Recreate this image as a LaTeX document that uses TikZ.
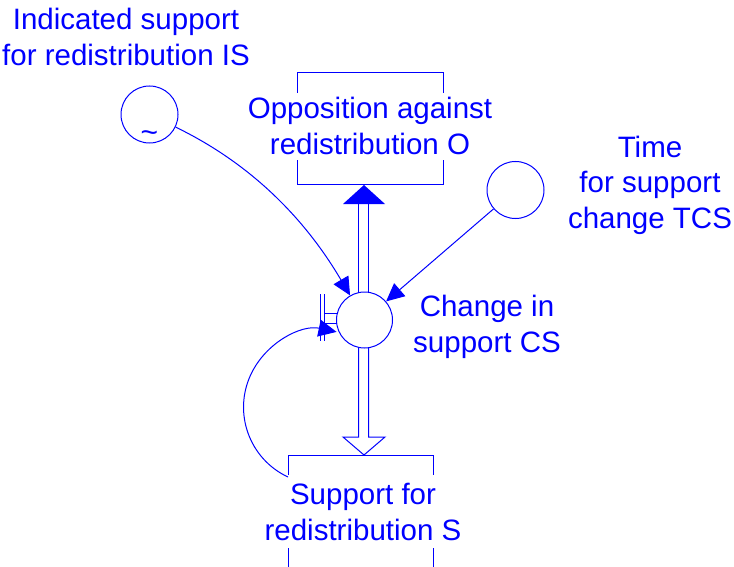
\documentclass[tikz,border=0pt]{standalone}
\usepackage{fontspec}
\setmainfont{Liberation Sans}
\usetikzlibrary{arrows.meta,calc}
\definecolor{vblue}{RGB}{0,0,255}
\begin{document}
\begin{tikzpicture}[x=1pt,y=-1pt,
  every node/.style={inner sep=0pt},
  lbl/.style={text=vblue, font=\fontsize{29.5}{36}\selectfont, align=center, anchor=base},
  conv/.style={draw=vblue, circle, minimum size=56pt, line width=1pt},
  stock/.style={draw=vblue, line width=1pt, rectangle},
  wire/.style={draw=vblue, line width=1pt},
  conn/.style={wire, -{Triangle[length=18pt,width=17pt]}},
]
\useasboundingbox (0,0) rectangle (734,567);

% stocks
\node[stock, minimum width=146pt, minimum height=112pt] (O) at (370,129) {};
\node[stock, minimum width=145pt, minimum height=130pt, anchor=north] (S) at (360.5,455) {};

% converters
\node[conv] (CS) at (364.5,320) {};
\node[conv, minimum size=57pt] (IS) at (149.5,114.5) {};
\node[text=vblue, font=\fontsize{30}{30}\selectfont, anchor=base] (tld) at (149.5,143) {\textasciitilde};
\node[conv, minimum size=57pt] (TCS) at (515.5,190) {};

% labels
\node[lbl] (ISl) at (126,66) {Indicated support\\for redistribution IS};
\node[lbl, fill=white, inner xsep=2pt, inner ysep=5pt] (Ol) at (370,155) {Opposition against\\redistribution O};
\node[lbl] (TCSl) at (650,229) {Time\\for support\\change TCS};
\node[lbl] (CSl) at (487,352) {Change in\\support CS};
\node[lbl, fill=white, inner xsep=2pt, inner ysep=8pt] (Sl) at (363,540) {Support for\\redistribution S};

% flow pipe up to O (filled head)
\draw[wire] (358.5,293) -- (358.5,204);
\draw[wire] (368.5,293) -- (368.5,204);
\fill[vblue] (343,204) -- (385,204) -- (364,185) -- cycle;

% flow pipe down to S (hollow head)
\draw[wire, line join=miter] (358.5,348) -- (358.5,437) -- (343,437) -- (364,455) -- (385,437) -- (368.5,437) -- (368.5,348);

% valve glyph
\draw[wire] (320,294) -- (320,341);
\draw[wire] (324.5,294) -- (324.5,341);
\draw[wire] (324.5,313) -- (337.5,313);
\draw[wire] (324.5,323) -- (337,323);

% connectors
\draw[conn] (IS) .. controls (254,165) and (307,222) .. (CS);
\draw[conn] (TCS) -- (CS);
\coordinate (loopstart) at (288,477);
\draw[conn] (loopstart) arc[start angle=115, end angle=282, radius=77];
\end{tikzpicture}
\end{document}
